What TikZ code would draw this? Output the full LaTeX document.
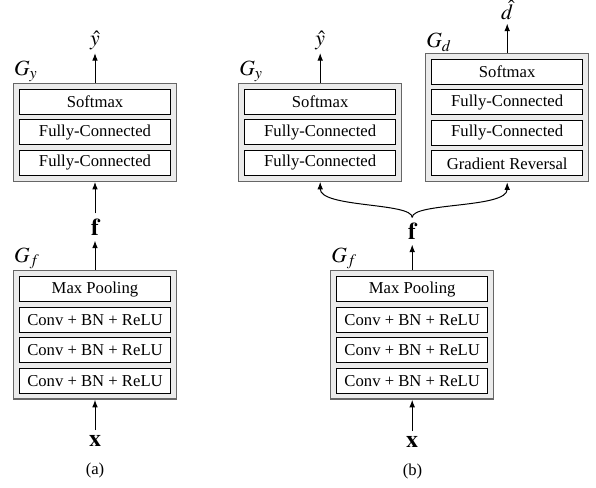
\documentclass[tikz,border=0pt]{standalone}
\usepackage{mathptmx}
\usepackage{fontspec}
\setmainfont{Liberation Serif}
\usetikzlibrary{positioning,fit,arrows.meta,backgrounds}

\tikzset{
    layer/.style={draw, fill=white, line width=0.5pt, minimum width=90.6pt, minimum height=15pt, inner sep=0pt},
    block/.style={draw=black!60, fill=black!8, line width=0.8pt, inner sep=3.3pt},
    mathlabel/.style={font=\fontsize{13}{15}\selectfont, inner sep=2pt},
    blocklabel/.style={mathlabel, anchor=south west, inner sep=0.5pt},
    feat/.style={font=\Large, inner sep=3pt},
    arr/.style={-{Latex[length=4.5pt,width=3.4pt]}, line width=0.6pt},
}

\begin{document}
\begin{tikzpicture}[x=0.6pt, y=-0.6pt]
    \useasboundingbox (0,0) rectangle (596,488);

    % (a)
    \node[layer] (smA) at (95,101.8) {Softmax};
    \node[layer, below=2.8pt of smA] (fcA1) {Fully-Connected};
    \node[layer, below=2.8pt of fcA1] (fcA2) {Fully-Connected};

    \node[layer] (mpA) at (95,289.2) {Max Pooling};
    \node[layer, below=2.8pt of mpA] (cvA1) {Conv + BN + ReLU};
    \node[layer, below=2.8pt of cvA1] (cvA2) {Conv + BN + ReLU};
    \node[layer, below=2.8pt of cvA2] (cvA3) {Conv + BN + ReLU};

    \begin{scope}[on background layer]
        \node[block, fit=(smA)(fcA2)] (gyA) {};
        \node[block, fit=(mpA)(cvA3)] (gfA) {};
    \end{scope}

    \node[blocklabel] (lgyA) at (gyA.north west) {$G_y$};
    \node[blocklabel] (lgfA) at (gfA.north west) {$G_f$};

    \node[mathlabel] (yA) at (95,40) {$\hat{y}$};
    \node[feat] (fA) at (95,227) {$\mathbf{f}$};
    \node[feat] (xA) at (95,441) {$\mathbf{x}$};
    \node (capA) at (95,470) {(a)};

    \draw[arr] (gyA) -- (yA);
    \draw[arr] (fA) -- (gyA);
    \draw[arr] (gfA) -- (fA);
    \draw[arr] (xA) -- (gfA);

    % (b)
    \node[layer] (smB) at (320.2,101.8) {Softmax};
    \node[layer, below=2.8pt of smB] (fcB1) {Fully-Connected};
    \node[layer, below=2.8pt of fcB1] (fcB2) {Fully-Connected};

    \node[layer] (smD) at (507.2,71.8) {Softmax};
    \node[layer, below=2.8pt of smD] (fcD1) {Fully-Connected};
    \node[layer, below=2.8pt of fcD1] (fcD2) {Fully-Connected};
    \node[layer, below=2.8pt of fcD2] (grD) {Gradient Reversal};

    \node[layer] (mpB) at (412.2,289.2) {Max Pooling};
    \node[layer, below=2.8pt of mpB] (cvB1) {Conv + BN + ReLU};
    \node[layer, below=2.8pt of cvB1] (cvB2) {Conv + BN + ReLU};
    \node[layer, below=2.8pt of cvB2] (cvB3) {Conv + BN + ReLU};

    \begin{scope}[on background layer]
        \node[block, fit=(smB)(fcB2)] (gyB) {};
        \node[block, fit=(smD)(grD)] (gdB) {};
        \node[block, fit=(mpB)(cvB3)] (gfB) {};
    \end{scope}

    \node[blocklabel] (lgyB) at (gyB.north west) {$G_y$};
    \node[blocklabel] (lgdB) at (gdB.north west) {$G_d$};
    \node[blocklabel] (lgfB) at (gfB.north west) {$G_f$};

    \node[mathlabel] (yB) at (320.2,40) {$\hat{y}$};
    \node[mathlabel] (dB) at (507.2,10) {$\hat{d}$};
    \node[feat] (fB) at (412.2,231) {$\mathbf{f}$};
    \node[feat] (xB) at (412.2,442) {$\mathbf{x}$};
    \node (capB) at (412.5,471) {(b)};

    \draw[arr] (gyB) -- (yB);
    \draw[arr] (gdB) -- (dB);
    \draw[arr] (fB.north) .. controls +(0,-15) and +(0,26) .. (gyB.south);
    \draw[arr] (fB.north) .. controls +(0,-15) and +(0,26) .. (gdB.south);
    \draw[arr] (gfB) -- (fB);
    \draw[arr] (xB) -- (gfB);
\end{tikzpicture}
\end{document}
